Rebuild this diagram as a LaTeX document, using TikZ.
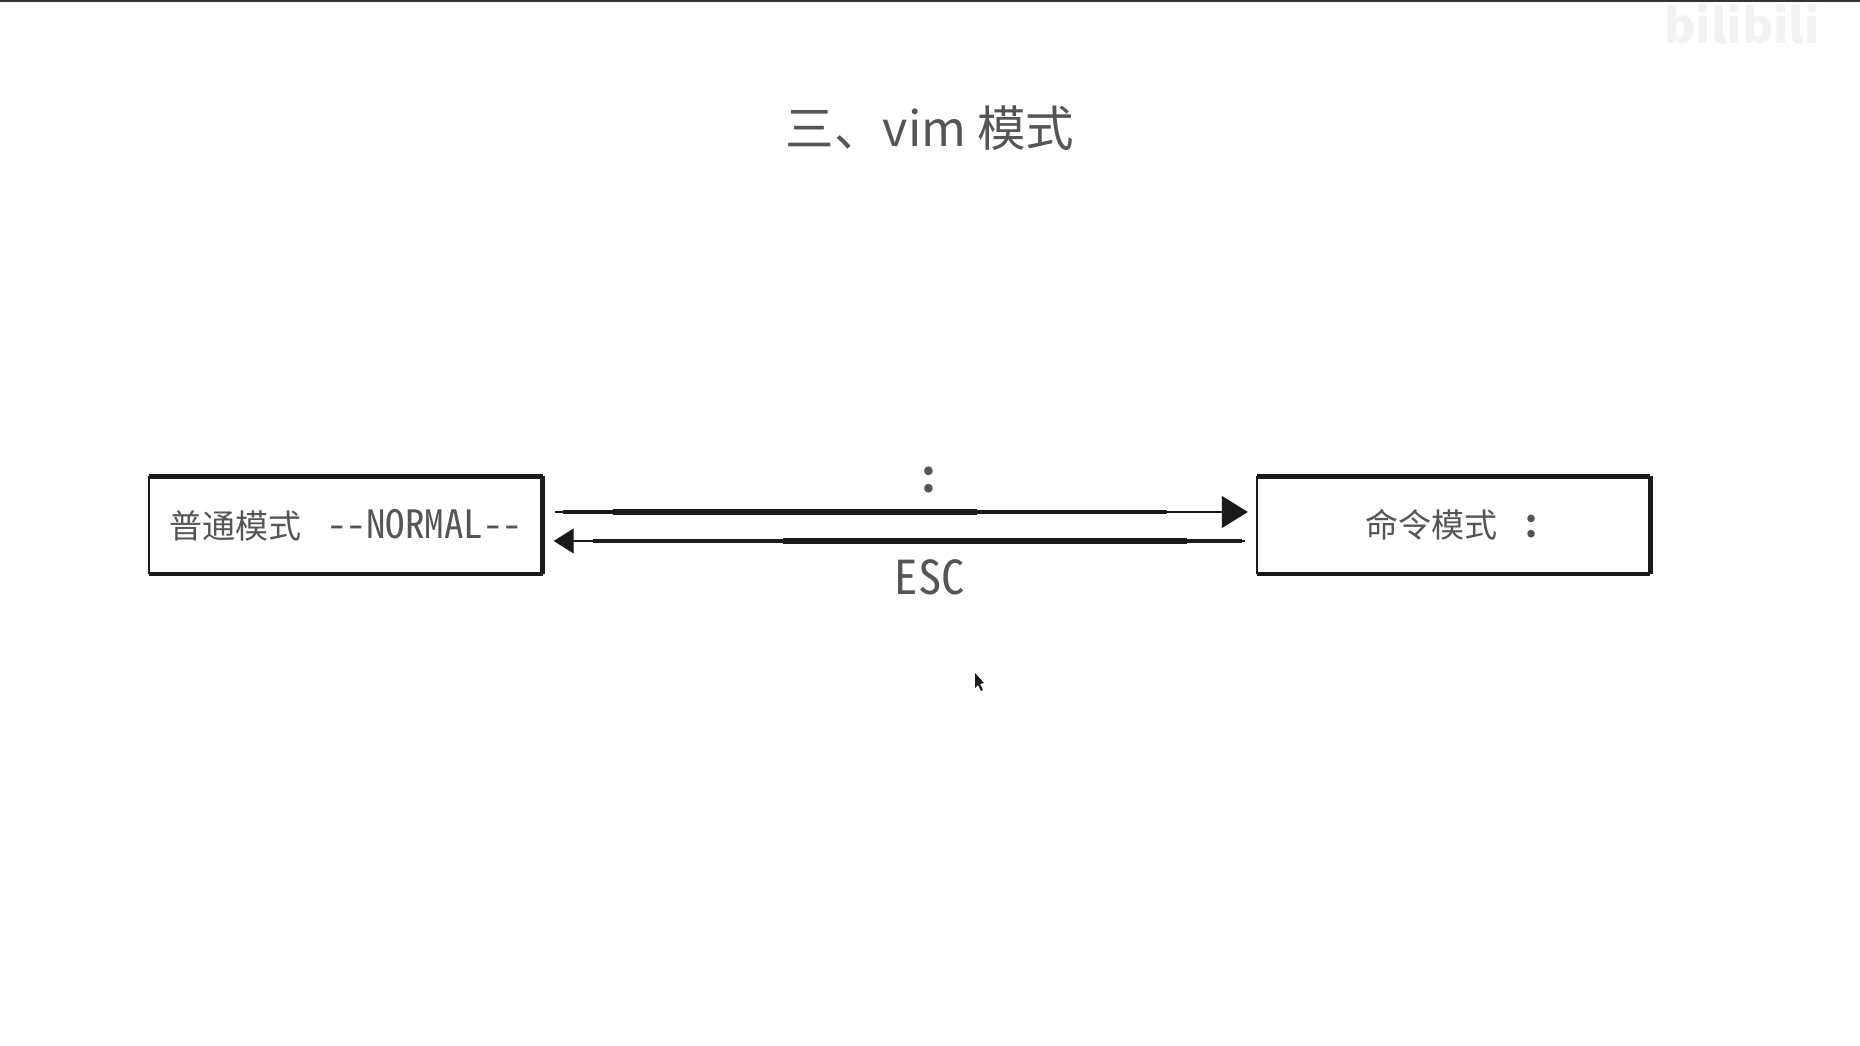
\documentclass[tikz,border=0pt]{standalone}
\usepackage{fontspec}
\usetikzlibrary{arrows.meta}
\setmainfont{Noto Sans CJK SC}
\newfontfamily\monofont{Noto Sans Mono CJK SC}
\definecolor{inkgray}{HTML}{555555}
\definecolor{inkdark}{HTML}{1A1A1A}
\tikzset{
	modebox/.style={minimum width=3.92cm, minimum height=0.96cm, inner sep=0pt,
		text=inkgray, font=\fontsize{9.4pt}{11pt}\selectfont},
	inkline/.style={draw=inkdark, line width=#1, line cap=butt},
	bigarrow/.style={draw=inkdark, line width=0.3pt,
		-{Triangle[length=2.6mm, width=3.2mm, fill=inkdark]}},
	smallarrow/.style={draw=inkdark, line width=0.3pt,
		-{Triangle[length=2mm, width=2.5mm, fill=inkdark]}},
	caption/.style={text=inkgray, inner sep=0pt}
}
\begin{document}
\begin{tikzpicture}
	\useasboundingbox (0, 0) rectangle (18.6, 10.46);
	\fill[white] (0, 0) rectangle (18.6, 10.46);
	% 顶部的细线
	\draw[black!80, line width=0.8pt] (0, 10.45) -- (18.6, 10.45);
	% 标题
	\node[caption, font=\fontsize{13.8pt}{16pt}\selectfont] (title) at (9.3, 9.18) {三、vim 模式};
	% 两个模式
	\node[modebox] (normal) at (3.46, 5.21)
		{普通模式\hspace{0.77em}{\monofont\fontsize{11.1pt}{14pt}\selectfont --NORMAL--}};
	\node[modebox] (command) at (14.535, 5.21)
		{命令模式\hspace{0.7em}{\monofont\fontsize{11.4pt}{14pt}\bfseries\selectfont :}};
	\foreach \b in {normal, command} {
		\draw[inkline=0.6pt] (\b.south west) -- (\b.north west);
		\draw[inkline=1.3pt] (\b.north west) -- (\b.north east);
		\draw[inkline=1.3pt] (\b.north east) -- (\b.south east);
		\draw[inkline=1.1pt] (\b.south east) -- (\b.south west);
	}
	% 两个箭头
	\coordinate (toA) at ([yshift=0.13cm]normal.east);
	\coordinate (toB) at (command.west |- toA);
	\coordinate (backB) at ([yshift=-0.16cm]command.west);
	\coordinate (backA) at (normal.east |- backB);
	\draw[bigarrow, shorten <=0.12cm, shorten >=0.09cm] (toA) -- (toB);
	\draw[smallarrow, shorten <=0.12cm, shorten >=0.11cm] (backB) -- (backA);
	\draw[inkline=0.9pt, shorten <=0.2cm, shorten >=0.9cm] (toA) -- (toB);
	\draw[inkline=1.6pt, shorten <=0.7cm, shorten >=2.8cm] (toA) -- (toB);
	\draw[inkline=0.9pt, shorten <=0.5cm, shorten >=0.15cm] (backA) -- (backB);
	\draw[inkline=1.5pt, shorten <=2.4cm, shorten >=0.7cm] (backA) -- (backB);
	% 箭头上的文字
	\node[caption, font=\monofont\fontsize{13pt}{16pt}\bfseries\selectfont] (colon) at (9.29, 5.66) {:};
	\node[caption, font=\monofont\fontsize{13.3pt}{16pt}\selectfont] (esc) at (9.3, 4.69) {ESC};
	% 鼠标指针
	\fill[inkdark] (9.75, 3.73) -- (9.75, 3.58) -- (9.78, 3.61) -- (9.81, 3.55)
		-- (9.83, 3.56) -- (9.80, 3.62) -- (9.84, 3.63) -- cycle;
	% 水印
	\node[text=black!5, inner sep=0pt, font=\fontsize{13.5pt}{18pt}\bfseries\selectfont] (mark) at (17.42, 10.22) {bilibili};
\end{tikzpicture}
\end{document}
